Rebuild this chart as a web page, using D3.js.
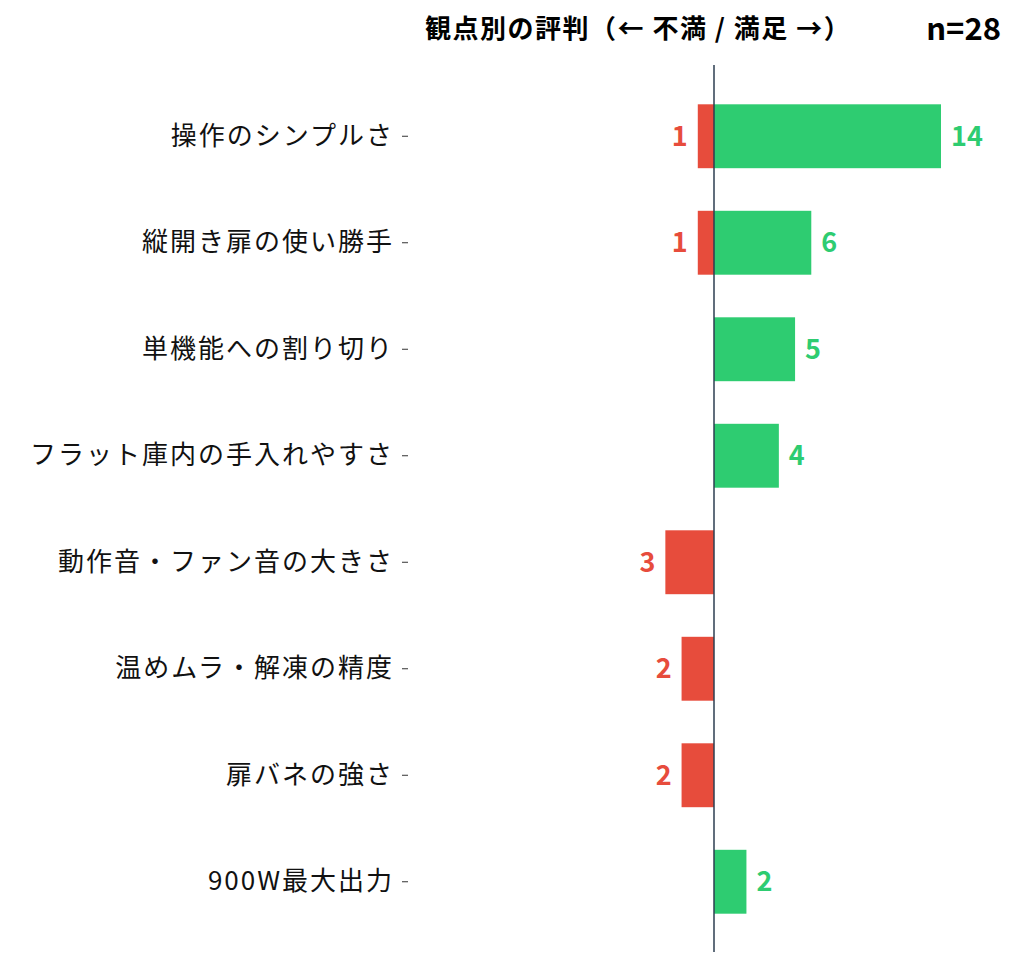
<!DOCTYPE html>
<html><head><meta charset="utf-8">
<script src="https://cdn.jsdelivr.net/npm/d3@7"></script>
<style>body{margin:0;background:#fff}text{font-family:"Noto Sans CJK JP","Noto Sans",sans-serif}</style>
</head><body>
<svg id="c" width="1035" height="969"></svg>
<script>
const categories=["操作のシンプルさ","縦開き扉の使い勝手","単機能への割り切り","フラット庫内の手入れやすさ","動作音・ファン音の大きさ","温めムラ・解凍の精度","扉バネの強さ","900W最大出力"];
const satisfied=[14,6,5,4,0,0,0,2];
const dissatisfied=[1,1,0,0,3,2,2,0];
const titleText="観点別の評判（← 不満 / 満足 →）";
const nText="n=28";
const svg=d3.select("#c");
const x=d3.scaleLinear().domain([0,14]).range([714,941]);
const x0=x(0), ppu=x(1)-x(0);
const y=d3.scaleBand().domain(categories).range([83,935]).paddingInner(0.4).paddingOuter(0.2);
const green="#2ecc71", red="#e74c3c";
svg.append("g").selectAll("rect.s").data(categories).join("rect")
 .attr("x",x0).attr("y",d=>y(d)).attr("height",y.bandwidth())
 .attr("width",(d,i)=>satisfied[i]*ppu).attr("fill",green);
svg.append("g").selectAll("rect.d").data(categories).join("rect")
 .attr("x",(d,i)=>x0-dissatisfied[i]*ppu).attr("y",d=>y(d)).attr("height",y.bandwidth())
 .attr("width",(d,i)=>dissatisfied[i]*ppu).attr("fill",red);
categories.forEach((c,i)=>{
 const cy=y(c)+y.bandwidth()/2;
 if(satisfied[i]>0) svg.append("text").attr("x",x0+satisfied[i]*ppu+10).attr("y",cy).attr("dy","0.35em")
   .attr("fill",green).attr("font-weight","bold").attr("font-size",27).text(satisfied[i]);
 if(dissatisfied[i]>0) svg.append("text").attr("x",x0-dissatisfied[i]*ppu-10).attr("y",cy).attr("dy","0.35em")
   .attr("text-anchor","end").attr("fill",red).attr("font-weight","bold").attr("font-size",27).text(dissatisfied[i]);
});
svg.append("line").attr("x1",x0).attr("x2",x0).attr("y1",65).attr("y2",952).attr("stroke","#2c3e50").attr("stroke-width",1.5);
const ax=svg.append("g").attr("transform","translate(408,0)").call(d3.axisLeft(y).tickSize(6).tickPadding(8));
ax.select(".domain").remove();
ax.selectAll(".tick line").attr("stroke","#333");
ax.selectAll("text").attr("font-size",26).attr("letter-spacing","2px").attr("fill","#111");
svg.append("text").attr("x",425).attr("y",38).attr("font-weight","bold").attr("font-size",26).attr("letter-spacing","1.5px").text(titleText);
svg.append("text").attr("x",1001).attr("y",40).attr("text-anchor","end").attr("font-weight","bold").attr("font-size",31).text(nText);
</script></body></html>
